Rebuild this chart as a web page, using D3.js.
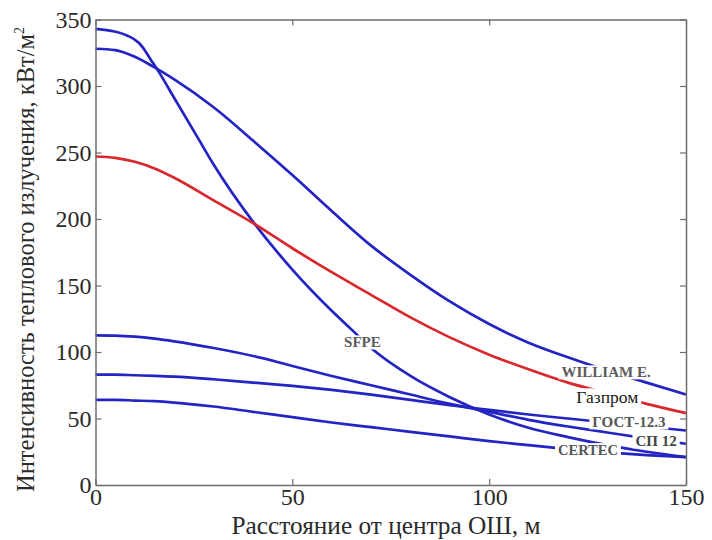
<!DOCTYPE html>
<html>
<head>
<meta charset="utf-8">
<script src="https://cdn.jsdelivr.net/npm/d3@7/dist/d3.min.js"></script>
<style>
  html, body { margin: 0; padding: 0; background: #fff; }
  svg { display: block; }
</style>
</head>
<body>
<svg id="chart" width="712" height="540"></svg>
<script>
// Heat flux vs distance from flare stack centre, by calculation method
const distance = [0, 5, 10, 15, 20, 30, 40, 50, 60, 70, 80, 90, 100, 110, 120, 130, 140, 150];

const william = [328, 327, 322, 314, 305, 284, 259, 233, 206, 180, 158, 138, 121, 107, 96, 86, 77, 68];
const gazprom = [247, 246, 243, 238, 231, 214, 197, 178, 160, 143, 126, 111, 98, 87, 77, 69, 61, 54];
const gost = [83, 83, 82.5, 82, 81.5, 79.5, 77, 74.5, 71.5, 68, 64, 60, 56.5, 53, 50, 47, 44, 41];
const sp12 = [112.5, 112.3, 111.5, 110, 108, 103, 97, 89.5, 82, 75, 68, 61, 55, 49, 44, 39.5, 35, 31];
const certec = [64, 64, 63.5, 63, 62, 59, 55, 51, 47, 43.5, 40, 36.5, 33, 30, 27, 24.5, 22.5, 21];

// SFPE has a sharp knee near 12 m, so it gets its own denser distance grid
const sfpeDistance = [0, 4, 8, 11, 12, 14, 16, 20, 26, 30, 40, 50, 60, 65, 70, 80, 90, 100, 110, 120, 130, 140, 150];
const sfpe = [343, 341.5, 338, 332.5, 329, 320, 311, 291, 261, 241, 198, 162, 131, 117, 103, 82, 66, 53, 43, 36, 30, 25, 21];

const xTicks = [0, 50, 100, 150];
const yTicks = [0, 50, 100, 150, 200, 250, 300, 350];

const xTitle = "Расстояние от центра ОШ, м";
const yTitle = "Интенсивность теплового излучения, кВт/м";

// Curve annotations: text, anchor in data units, style
const labelText = ["WILLIAM E.", "Газпром", "ГОСТ-12.3", "СП 12", "CERTEC", "SFPE"];
const labelX = [129.7, 130, 135.5, 142.4, 125.1, 67.8];
const labelY = [84.9, 66, 47.3, 33, 26.3, 107.4];
const labelSize = [15, 17.5, 15, 15, 14.5, 15];
const labelBold = [true, false, true, true, true, true];
const labelColor = ["#5c5c5c", "#1a1a1a", "#555555", "#444444", "#555555", "#5c5c5c"];

const blue = "#2424c4";
const red = "#d8282c";

const series = [
  { xs: distance, ys: william, color: blue },
  { xs: sfpeDistance, ys: sfpe, color: blue },
  { xs: distance, ys: sp12, color: blue },
  { xs: distance, ys: gost, color: blue },
  { xs: distance, ys: certec, color: blue },
  { xs: distance, ys: gazprom, color: red }
];

const svg = d3.select("#chart");
const mLeft = 95.5, mRight = 686, mTop = 19.5, mBottom = 485;

const x = d3.scaleLinear().domain([0, 150]).range([mLeft, mRight]);
const y = d3.scaleLinear().domain([0, 350]).range([mBottom, mTop]);

const font = "'Liberation Serif', 'Times New Roman', serif";
const axisColor = "#6e6e6e";
const textColor = "#2a2a2a";

// Lines
const line = d3.line()
  .x(d => x(d[0]))
  .y(d => y(d[1]))
  .curve(d3.curveMonotoneX);

svg.append("g").selectAll("path.curve")
  .data(series)
  .join("path")
  .attr("class", "curve")
  .attr("fill", "none")
  .attr("stroke", d => d.color)
  .attr("stroke-width", 2.7)
  .attr("d", d => line(d.xs.map((v, i) => [v, d.ys[i]])));

// Labels sit on white patches that break the lines underneath
const labels = svg.append("g");
labelText.forEach((t, i) => {
  const g = labels.append("g");
  const txt = g.append("text")
    .attr("x", x(labelX[i]))
    .attr("y", y(labelY[i]))
    .attr("dy", "0.35em")
    .attr("text-anchor", "middle")
    .attr("font-family", font)
    .attr("font-size", labelSize[i])
    .attr("font-weight", labelBold[i] ? "bold" : "normal")
    .attr("fill", labelColor[i])
    .text(t);
  const bb = txt.node().getBBox();
  g.insert("rect", "text")
    .attr("x", bb.x - 3)
    .attr("y", bb.y + 1)
    .attr("width", bb.width + 6)
    .attr("height", bb.height - 2)
    .attr("fill", "#fff");
});

// Axes (ticks pointing inward, box frame)
const styleAxis = g => {
  g.select(".domain").attr("stroke", axisColor).attr("stroke-width", 1.5);
  g.selectAll(".tick line").attr("stroke", axisColor).attr("stroke-width", 1.2);
  g.selectAll(".tick text")
    .attr("font-family", font)
    .attr("font-size", 24)
    .attr("fill", textColor);
};

svg.append("g")
  .attr("transform", `translate(0,${mBottom})`)
  .call(d3.axisBottom(x).tickValues(xTicks).tickSize(-6).tickPadding(3).tickSizeOuter(0))
  .call(styleAxis);

svg.append("g")
  .attr("transform", `translate(0,${mTop})`)
  .call(d3.axisTop(x).tickValues(xTicks).tickSize(-6).tickFormat("").tickSizeOuter(0))
  .call(styleAxis);

svg.append("g")
  .attr("transform", `translate(${mLeft},0)`)
  .call(d3.axisLeft(y).tickValues(yTicks).tickSize(-6).tickPadding(4).tickSizeOuter(0))
  .call(styleAxis);

svg.append("g")
  .attr("transform", `translate(${mRight},0)`)
  .call(d3.axisRight(y).tickValues(yTicks).tickSize(-6).tickFormat("").tickSizeOuter(0))
  .call(styleAxis);

// Axis titles
svg.append("text")
  .attr("x", 386)
  .attr("y", 533.5)
  .attr("text-anchor", "middle")
  .attr("font-family", font)
  .attr("font-size", 25.3)
  .attr("fill", textColor)
  .text(xTitle);

const yt = svg.append("text")
  .attr("transform", "translate(34,492) rotate(-90)")
  .attr("text-anchor", "start")
  .attr("font-family", font)
  .attr("font-size", 24.5)
  .attr("fill", textColor);
yt.append("tspan").text(yTitle);
yt.append("tspan").attr("font-size", 14).attr("dy", "-0.75em").text("2");
</script>
</body>
</html>
